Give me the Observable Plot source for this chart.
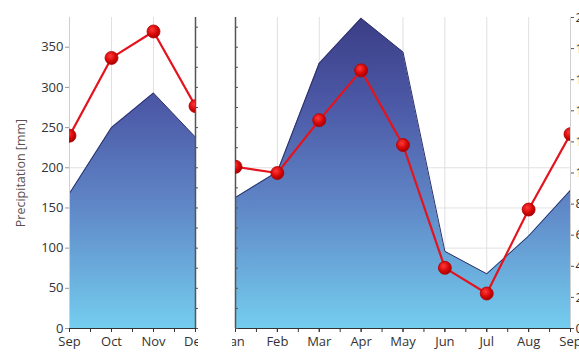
<!DOCTYPE html>
<html><head><meta charset="utf-8">
<script src="https://cdn.jsdelivr.net/npm/d3@7"></script>
<script src="https://cdn.jsdelivr.net/npm/@observablehq/plot@0.6"></script>
<style>
html,body{margin:0;padding:0;background:#fff;overflow:hidden}
#wrap{position:relative;width:579px;height:358px;overflow:hidden}
.panel{position:absolute;top:0;height:358px;overflow:hidden}
.panel svg{overflow:hidden}
</style></head><body><div id="wrap"></div>
<script>
// ---- data ----
const monthsLeft = ["Sep", "Oct", "Nov", "Dec"];
const precipLeft = [168, 250, 293, 238];
const tempLeft = [12.4, 17.4, 19.1, 14.3];

const monthsRight = ["Jan", "Feb", "Mar", "Apr", "May", "Jun", "Jul", "Aug", "Sep"];
const precipRight = [163, 195, 330, 386, 344, 96, 68, 115, 172];
const tempRight = [10.4, 10.0, 13.4, 16.6, 11.8, 3.9, 2.25, 7.65, 12.5];

const precipTicks = [0, 50, 100, 150, 200, 250, 300, 350];
const precipGrid = [50, 100, 150, 200];
const tempTicks = [0, 2, 4, 6, 8, 10, 12, 14, 16, 18, 20];
const precipMax = 387;
const tempMax = 20;
const yLabel = "Precipitation [mm]";

// ---- helpers ----
const k = precipMax / tempMax; // temperature -> precipitation units
const font = "'Open Sans', 'Noto Sans', sans-serif";

function rows(months, precip, temp) {
  return months.map((m, i) => ({i, month: m, p: precip[i], t: temp[i] * k}));
}

function addDefs(svg, id, y) {
  const defs = d3.select(svg).insert("defs", ":first-child");
  const g = defs.append("linearGradient").attr("id", id)
    .attr("gradientUnits", "userSpaceOnUse")
    .attr("x1", 0).attr("x2", 0)
    .attr("y1", y.apply(precipMax)).attr("y2", y.apply(0));
  [[0, "#3b3d86"], [0.3, "#4d5ba8"], [0.6, "#5f86c6"], [1, "#74cdef"]].forEach(([o, c]) =>
    g.append("stop").attr("offset", o).attr("stop-color", c));
  const r = defs.append("radialGradient").attr("id", id + "dot")
    .attr("cx", "40%").attr("cy", "35%").attr("r", "65%");
  [[0, "#ff3a3a"], [0.6, "#d80808"], [1, "#a80000"]].forEach(([o, c]) =>
    r.append("stop").attr("offset", o).attr("stop-color", c));
}

function panel({months, precip, temp, width, marginLeft, marginRight, left, gid, leftAxis, rightAxis}) {
  const data = rows(months, precip, temp);
  const n = months.length;
  const half = d3.range(0, n - 1 + 0.01, 0.5);
  const marks = [
    Plot.ruleY(precipGrid, {stroke: "#e2e2e2", strokeWidth: 1}),
    Plot.ruleX(d3.range(n), {stroke: "#e0e0e0", strokeWidth: 1}),
    Plot.areaY(data, {x: "i", y: "p", fill: `url(#${gid})`, curve: "linear"}),
    Plot.line(data, {x: "i", y: "p", stroke: "#2c3066", strokeWidth: 1, curve: "linear"}),
    Plot.ruleY([0], {stroke: "#333", strokeWidth: 1.2}),
    Plot.axisX({ticks: half, tickSize: 4, tickFormat: () => "", stroke: "#333", label: null}),
    Plot.axisX({ticks: d3.range(n), tickSize: 4, tickPadding: 4, tickFormat: (i) => months[i],
      fill: "#333", stroke: "#333", fontSize: 13, label: null})
  ];
  if (leftAxis === "labels") {
    marks.push(Plot.ruleX([0], {stroke: "#cfcfcf"}));
    marks.push(Plot.axisY({ticks: precipTicks, tickSize: 4, tickPadding: 2, fill: "#333", stroke: "#999",
      fontSize: 13, label: null}));
    marks.push(Plot.axisY({ticks: [], label: yLabel, labelAnchor: "center", labelArrow: "none",
      labelOffset: 53, fontSize: 12.5, fill: "#5a5050"}));
  } else {
    marks.push(Plot.ruleX([0], {stroke: "#555", strokeWidth: 1.5}));
    marks.push(Plot.axisY({anchor: "left", ticks: d3.range(0, precipMax, 25), tickSize: -3,
      tickFormat: () => "", stroke: "#555", label: null}));
  }
  if (rightAxis === "labels") {
    marks.push(Plot.ruleX([n - 1], {stroke: "#cfcfcf"}));
    marks.push(Plot.axisY({anchor: "right", ticks: tempTicks.map((t) => t * k), tickSize: 3, tickPadding: 2,
      tickFormat: (d) => String(Math.round(d / k)), fill: "#333", stroke: "#555", fontSize: 13, label: null}));
  } else {
    marks.push(Plot.ruleX([n - 1], {stroke: "#555", strokeWidth: 1.5}));
    marks.push(Plot.axisY({anchor: "right", ticks: d3.range(0, precipMax, 25), tickSize: 3,
      tickFormat: () => "", stroke: "#555", label: null}));
  }
  marks.push(Plot.line(data, {x: "i", y: "t", stroke: "#e3141e", strokeWidth: 2.2, clip: true}));
  marks.push(Plot.dot(data, {x: "i", y: "t", r: 6.5, fill: `url(#${gid}dot)`, stroke: "#b00000",
    strokeWidth: 0.8, clip: true}));

  const svg = Plot.plot({
    width, height: 358,
    marginTop: 17, marginBottom: 30, marginLeft, marginRight,
    style: {fontFamily: font, fontSize: "13px", background: "transparent", overflow: "hidden"},
    x: {type: "linear", domain: [0, n - 1], axis: null},
    y: {type: "linear", domain: [0, precipMax], axis: null},
    marks
  });
  addDefs(svg, gid, svg.scale("y"));
  const div = document.createElement("div");
  div.className = "panel";
  div.style.left = left + "px";
  div.style.width = width + "px";
  div.appendChild(svg);
  document.getElementById("wrap").appendChild(div);
}

panel({months: monthsLeft, precip: precipLeft, temp: tempLeft, width: 198, marginLeft: 69, marginRight: 3,
  left: 0, gid: "gL", leftAxis: "labels", rightAxis: "plain"});
panel({months: monthsRight, precip: precipRight, temp: tempRight, width: 347, marginLeft: 3, marginRight: 9,
  left: 232, gid: "gR", leftAxis: "plain", rightAxis: "labels"});
</script></body></html>
